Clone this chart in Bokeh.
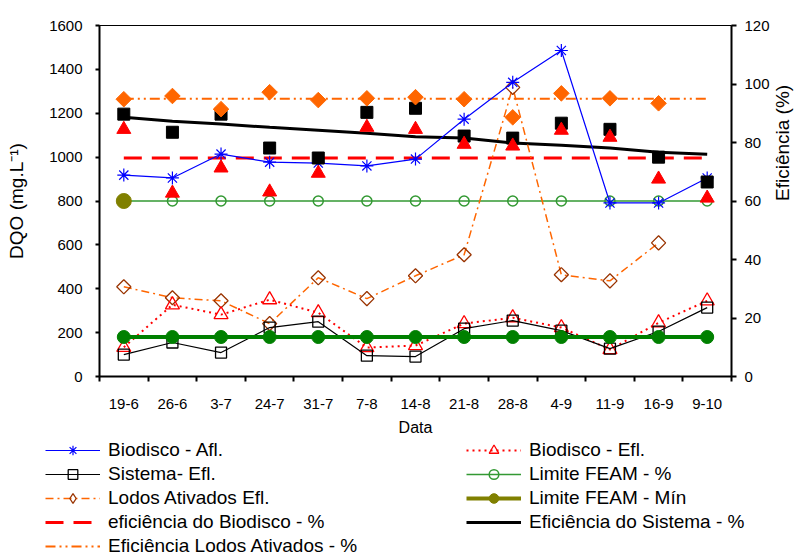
import math
from bokeh.plotting import figure
from bokeh.layouts import column
from bokeh.models import (Range1d, LinearAxis, FixedTicker, Legend, LegendItem)
from bokeh.embed import file_html
from bokeh.resources import INLINE

nan = float("nan")

# Datas de coleta
datas = ["19-6", "26-6", "3-7", "24-7", "31-7", "7-8", "14-8",
         "21-8", "28-8", "4-9", "11-9", "16-9", "9-10"]

# DQO (mg/L) - eixo esquerdo
biodisco_afl = [918, 905, 1014, 977, 973, 960, 991, 1173, 1341, 1486, 791, 791, 905]
biodisco_efl = [133, 327, 282, 350, 291, 132, 141, 241, 268, 223, 123, 245, 345]
sistema_efl = [100, 155, 109, 223, 250, 95, 91, 218, 255, 209, 127, 205, 314]
lodos_efl = [409, 359, 345, 241, 450, 355, 459, 555, 1318, 464, 436, 609, nan]
limite_feam_mg = [180, 180, 180, 180, 180, 180, 180, 180, 180, 180, 180, 180, 180]

# Eficiência (%) - eixo direito
limite_feam_pct = [60, 60, 60, 60, 60, 60, 60, 60, 60, 60, 60, 60, 60]
limite_feam_min = [60]
ef_biodisco = [84.5, 62.7, 71.3, 63.1, 69.5, 85.2, 84.5, 79.4, 78.8, 84.2, 81.8, 67.5, 61.0]
ef_sistema = [89.7, 83.5, 89.7, 78.1, 74.7, 90.3, 91.7, 82.2, 81.5, 86.6, 84.5, 75.0, 66.5]
ef_lodos = [94.8, 95.9, 91.4, 97.2, 94.5, 95.1, 95.5, 94.8, 88.6, 96.8, 95.1, 93.4, nan]
ef_biodisco_media = [74.7, 74.7, 74.7, 74.7, 74.7, 74.7, 74.7, 74.7, 74.7, 74.7, 74.7, 74.7, 74.7]
ef_sistema_tend = [88.6, 87.3, 86.3, 85.2, 84.2, 83.2, 82.0, 81.5, 79.8, 79.1, 78.1, 76.7, 76.0]
ef_lodos_media = [95.0, 95.0, 95.0, 95.0, 95.0, 95.0, 95.0, 95.0, 95.0, 95.0, 95.0, 95.0, 95.0]

dqo_ticks = [0, 200, 400, 600, 800, 1000, 1200, 1400, 1600]
pct_ticks = [0, 20, 40, 60, 80, 100, 120]

# each date sits in the middle of its own slot on the x scale
n = len(datas)
xs = [i + 0.5 for i in range(n)]

FONT = "Liberation Sans"
BLUE, RED, ORANGE, BROWN = "#0000FF", "#FF0000", "#FF6600", "#993300"
GREEN_T, GREEN, OLIVE = "#339933", "#008000", "#808000"

# line / marker styles shared by the chart and its legend
st_afl_l = dict(line_color=BLUE, line_width=1.2)
st_afl_m = dict(marker="asterisk", size=13, line_color=BLUE, line_width=1.2)
st_bef_l = dict(line_color=RED, line_width=2, line_dash="2 4")
st_bef_m = dict(marker="triangle", size=14, line_color=RED, line_width=1.3, fill_color=None)
st_sis_l = dict(line_color="black", line_width=1.2)
st_sis_m = dict(marker="square", size=11, line_color="black", line_width=1.3, fill_color=None)
st_lim_l = dict(line_color=GREEN_T, line_width=1.5)
st_lim_m = dict(marker="circle", size=10, line_color=GREEN_T, line_width=1.5, fill_color=None)
st_lod_l = dict(line_color=ORANGE, line_width=1.5, line_dash="8 4 2 4")
st_min_l = dict(line_color=OLIVE, line_width=4)
st_min_m = dict(marker="circle", size=15, line_color=OLIVE, fill_color=OLIVE)
st_efb = dict(line_color=RED, line_width=3, line_dash="18 10")
st_efs = dict(line_color="black", line_width=3)
st_efl = dict(line_color=ORANGE, line_width=2, line_dash="10 4 2 4 2 4")

p = figure(width=806, height=438,
           x_range=Range1d(0, n), y_range=Range1d(0, 1600),
           x_axis_location=None, y_axis_location=None,
           output_backend="svg", toolbar_location=None,
           min_border_left=99, min_border_right=70,
           min_border_top=25, min_border_bottom=61)
p.extra_y_ranges = {"pct": Range1d(0, 120)}
p.grid.visible = False
p.outline_line_color = "black"
p.outline_line_width = 1
p.background_fill_color = "white"
p.border_fill_color = "white"
p.frame_align = False


def style_axis(ax, tick_out, standoff):
    ax.axis_line_color = "black"
    ax.axis_line_width = 2
    ax.major_tick_line_color = "black"
    ax.major_tick_line_width = 2
    ax.major_tick_in = 0
    ax.major_tick_out = tick_out
    ax.minor_tick_line_color = None
    ax.major_label_text_font = FONT
    ax.major_label_text_font_size = "15px"
    ax.major_label_text_color = "black"
    ax.major_label_standoff = standoff
    ax.axis_label_text_font = FONT
    ax.axis_label_text_font_style = "normal"
    ax.axis_label_text_color = "black"


ax_l = LinearAxis(ticker=FixedTicker(ticks=dqo_ticks), axis_label="DQO (mg.L⁻¹)")
style_axis(ax_l, 4, 13)
ax_l.axis_label_text_font_size = "19px"
ax_l.axis_label_standoff = 19
p.add_layout(ax_l, "left")

ax_r = LinearAxis(y_range_name="pct", ticker=FixedTicker(ticks=pct_ticks), axis_label="Eficiência (%)")
style_axis(ax_r, 5, 8)
ax_r.axis_label_text_font_size = "19px"
ax_r.axis_label_standoff = 10
ax_r.axis_label_orientation = math.pi / 2
p.add_layout(ax_r, "right")

# tick marks between dates
ax_b = LinearAxis(ticker=FixedTicker(ticks=list(range(n + 1))),
                  major_label_overrides={i: "" for i in range(n + 1)})
style_axis(ax_b, 5, 0)
ax_b.major_label_text_font_size = "0px"
p.add_layout(ax_b, "below")

# date labels centred in each slot
ax_c = LinearAxis(ticker=FixedTicker(ticks=xs), axis_label="Data",
                  major_label_overrides={x: d for x, d in zip(xs, datas)})
style_axis(ax_c, 0, 17)
ax_c.axis_line_color = None
ax_c.major_tick_line_color = None
ax_c.axis_label_text_font_size = "16px"
ax_c.axis_label_standoff = 7
p.add_layout(ax_c, "below")

# --- series on the % axis ---
p.line(xs, limite_feam_pct, y_range_name="pct", **st_lim_l)
p.scatter(xs, limite_feam_pct, y_range_name="pct", **st_lim_m)
p.line(xs, ef_biodisco_media, y_range_name="pct", **st_efb)
p.line(xs, ef_lodos_media, y_range_name="pct", **st_efl)
p.line(xs, ef_sistema_tend, y_range_name="pct", **st_efs)

# --- DQO series ---
p.line(xs, lodos_efl, **st_lod_l)
p.scatter(xs, lodos_efl, marker="square", angle=math.pi / 4, size=10,
          line_color=BROWN, line_width=1.3, fill_color=None)
p.line(xs, biodisco_efl, **st_bef_l)
p.scatter(xs, biodisco_efl, **st_bef_m)
p.line(xs, sistema_efl, **st_sis_l)
p.scatter(xs, sistema_efl, **st_sis_m)
p.line(xs, limite_feam_mg, line_color=GREEN, line_width=4)
p.scatter(xs, limite_feam_mg, marker="circle", size=13, line_color=GREEN, fill_color=GREEN)
p.line(xs, biodisco_afl, **st_afl_l)
p.scatter(xs, biodisco_afl, **st_afl_m)

# --- efficiency per date (filled markers) ---
p.scatter(xs, ef_sistema, y_range_name="pct", marker="square", size=12,
          line_color="black", fill_color="black")
p.scatter(xs, ef_biodisco, y_range_name="pct", marker="triangle", size=14,
          line_color=RED, fill_color=RED)
p.scatter(xs, ef_lodos, y_range_name="pct", marker="square", angle=math.pi / 4, size=11,
          line_color=ORANGE, fill_color=ORANGE)
p.scatter(xs[:1], limite_feam_min, y_range_name="pct", **st_min_m)

# --- legend panel under the chart ---
pl = figure(width=806, height=120, x_range=Range1d(0, 1), y_range=Range1d(0, 1),
            x_axis_location=None, y_axis_location=None,
            output_backend="svg", toolbar_location=None, min_border=0)
pl.grid.visible = False
pl.outline_line_color = None
pl.border_fill_color = "white"
pl.frame_align = False


def sample(line_style=None, marker_style=None):
    rs = []
    if line_style:
        rs.append(pl.line([nan], [nan], **line_style))
    if marker_style:
        rs.append(pl.scatter([nan], [nan], **marker_style))
    return rs


items_left = [
    LegendItem(label="Biodisco - Afl.", renderers=sample(st_afl_l, st_afl_m)),
    LegendItem(label="Sistema- Efl.", renderers=sample(st_sis_l, st_sis_m)),
    LegendItem(label="Lodos Ativados Efl.",
               renderers=sample(st_lod_l, dict(marker="diamond", size=14, line_color=BROWN,
                                                line_width=1.3, fill_color=None))),
    LegendItem(label="eficiência do Biodisco - %", renderers=sample(st_efb)),
    LegendItem(label="Eficiência Lodos Ativados - %", renderers=sample(st_efl)),
]
items_right = [
    LegendItem(label="Biodisco - Efl.", renderers=sample(st_bef_l, st_bef_m)),
    LegendItem(label="Limite FEAM - %", renderers=sample(st_lim_l, st_lim_m)),
    LegendItem(label="Limite FEAM - Mín", renderers=sample(st_min_l, st_min_m)),
    LegendItem(label="Eficiência do Sistema - %", renderers=sample(st_efs)),
]

for items, loc in ((items_left, (45, 0)), (items_right, (466, 24))):
    lg = Legend(items=items, location=loc, orientation="vertical")
    lg.glyph_width = 55
    lg.glyph_height = 24
    lg.label_height = 24
    lg.spacing = 0
    lg.padding = 0
    lg.margin = 0
    lg.label_standoff = 8
    lg.border_line_color = None
    lg.background_fill_alpha = 0
    lg.label_text_font = FONT
    lg.label_text_font_size = "19px"
    lg.label_text_color = "black"
    pl.add_layout(lg, "center")

open("out.html", "w").write(file_html(column(p, pl, spacing=0), INLINE))
